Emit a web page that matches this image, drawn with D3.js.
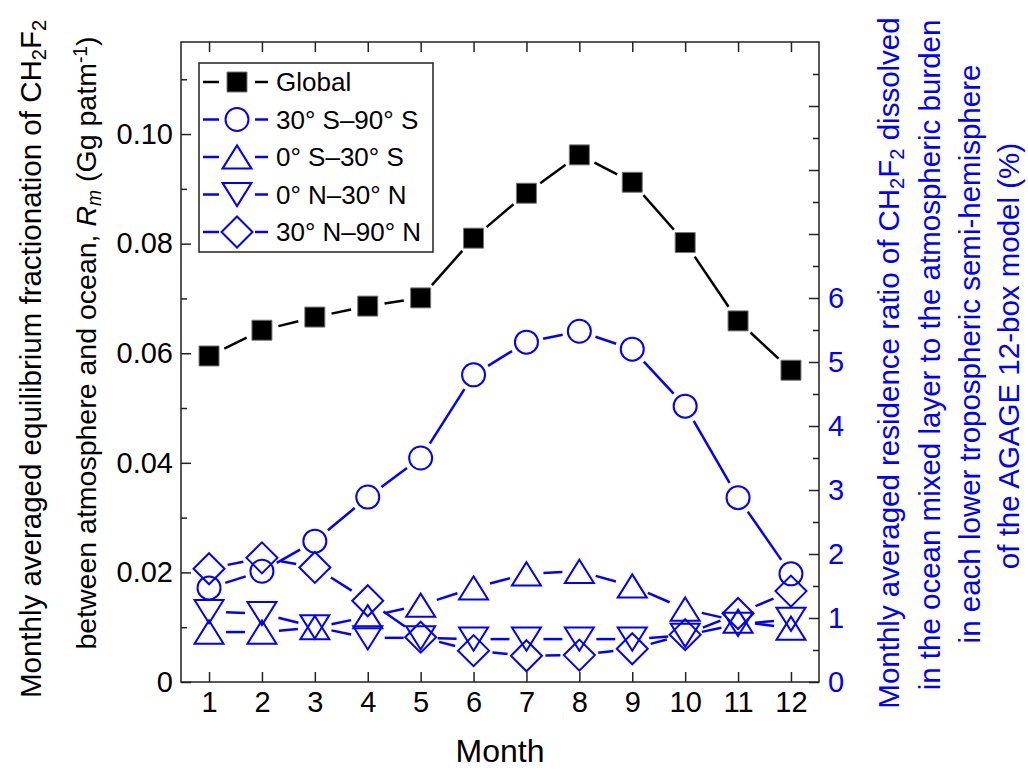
<!DOCTYPE html>
<html>
<head>
<meta charset="utf-8">
<script src="https://cdn.jsdelivr.net/npm/d3@7"></script>
<style>
  body { margin: 0; background: #fff; }
  text { font-family: "Liberation Sans", Arial, sans-serif; }
</style>
</head>
<body>
<div id="chart"></div>
<script>
// months on x
const months = [1, 2, 3, 4, 5, 6, 7, 8, 9, 10, 11, 12]
// left axis: Rm (Gg patm-1), global
const globalRm = [0.0595, 0.0642, 0.0666, 0.0686, 0.0701, 0.0810, 0.0892, 0.0962, 0.0912, 0.0802, 0.0659, 0.0569]
// right axis: residence ratio (%) per semi-hemisphere
const s30S90S = [1.47, 1.73, 2.20, 2.89, 3.50, 4.80, 5.31, 5.48, 5.20, 4.31, 2.88, 1.69]
const s0S30S = [0.78, 0.78, 0.85, 1.02, 1.20, 1.47, 1.69, 1.73, 1.50, 1.14, 0.95, 0.84]
const s0N30N = [1.10, 1.07, 0.86, 0.69, 0.69, 0.67, 0.67, 0.67, 0.67, 0.73, 0.90, 0.98]
const s30N90N = [1.77, 1.94, 1.79, 1.27, 0.70, 0.49, 0.41, 0.42, 0.52, 0.74, 1.07, 1.42]

const leftTicks = [0, 0.02, 0.04, 0.06, 0.08, 0.10]
const leftMinor = [0.01, 0.03, 0.05, 0.07, 0.09, 0.11]
const rightTicks = [0, 1, 2, 3, 4, 5, 6, 7, 8, 9]
const rightMinor = [0.5, 1.5, 2.5, 3.5, 4.5, 5.5, 6.5, 7.5, 8.5, 9.5]

const W = 1028, H = 773
const plot = { left: 181, right: 819, top: 42, bottom: 682 }
const blue = '#0000ff'

const svg = d3.select('#chart').append('svg').attr('width', W).attr('height', H)
svg.append('rect').attr('width', W).attr('height', H).attr('fill', '#fff')

const x = d3.scaleLinear().domain([0.47, 12.53]).range([plot.left, plot.right])
const yL = d3.scaleLinear().domain([0, 0.1168]).range([plot.bottom, plot.top])
const yR = d3.scaleLinear().domain([0, 10]).range([plot.bottom, plot.top])

// custom marker shapes (size = width in px)
const shapes = {
    square: { draw(c, s) { const r = s / 2; c.rect(-r, -r, s, s) } },
    circle: { draw(c, s) { const r = s / 2; c.moveTo(r, 0); c.arc(0, 0, r, 0, 2 * Math.PI) } },
    up: { draw(c, s) { const w = s / 2, h = s * 0.4; c.moveTo(0, -h); c.lineTo(w, h); c.lineTo(-w, h); c.closePath() } },
    down: { draw(c, s) { const w = s / 2, h = s * 0.4; c.moveTo(0, h); c.lineTo(w, -h); c.lineTo(-w, -h); c.closePath() } },
    diamond: { draw(c, s) { const r = s / 2; c.moveTo(0, -r); c.lineTo(r, 0); c.lineTo(0, r); c.lineTo(-r, 0); c.closePath() } }
}

const series = [
    { name: 'Global', values: globalRm, y: yL, shape: 'square', size: 20, color: '#000', fill: '#000', gap: 17 },
    { name: '30\u00b0 S\u201390\u00b0 S', values: s30S90S, y: yR, shape: 'circle', size: 23, color: blue, fill: 'none', gap: 17 },
    { name: '0\u00b0 S\u201330\u00b0 S', values: s0S30S, y: yR, shape: 'up', size: 29, color: blue, fill: 'none', gap: 17 },
    { name: '0\u00b0 N\u201330\u00b0 N', values: s0N30N, y: yR, shape: 'down', size: 29, color: blue, fill: 'none', gap: 17 },
    { name: '30\u00b0 N\u201390\u00b0 N', values: s30N90N, y: yR, shape: 'diamond', size: 31, color: blue, fill: 'none', gap: 19 }
]

// axes with inward ticks
const gAx = svg.append('g')
gAx.append('g').attr('transform', `translate(${plot.left},0)`)
    .call(d3.axisLeft(yL).tickValues(leftTicks).tickSize(-10).tickPadding(8)
        .tickFormat(d => d === 0 ? '0' : d3.format('.2f')(d)))
gAx.append('g').attr('transform', `translate(${plot.left},0)`)
    .call(d3.axisLeft(yL).tickValues(leftMinor).tickSize(-6).tickFormat(''))
gAx.append('g').attr('transform', `translate(0,${plot.bottom})`)
    .call(d3.axisBottom(x).tickValues(months).tickSize(-10).tickPadding(9))
gAx.append('g').attr('transform', `translate(0,${plot.top})`)
    .call(d3.axisTop(x).tickValues(months).tickSize(-10).tickFormat(''))
const rAx = gAx.append('g').attr('transform', `translate(${plot.right},0)`)
    .call(d3.axisRight(yR).tickValues(rightTicks).tickSize(-10).tickPadding(9)
        .tickFormat(d => d <= 6 ? d : ''))
gAx.append('g').attr('transform', `translate(${plot.right},0)`)
    .call(d3.axisRight(yR).tickValues(rightMinor).tickSize(-6).tickFormat(''))
gAx.selectAll('.domain').remove()
gAx.selectAll('.tick line').attr('stroke', '#222').attr('stroke-width', 1.5)
gAx.selectAll('g').attr('font-size', 29).attr('font-family', '"Liberation Sans", Arial, sans-serif')
gAx.selectAll('text').attr('fill', '#000')
rAx.selectAll('text').attr('fill', blue)

svg.append('rect')
    .attr('x', plot.left).attr('y', plot.top)
    .attr('width', plot.right - plot.left).attr('height', plot.bottom - plot.top)
    .attr('fill', 'none').attr('stroke', '#222').attr('stroke-width', 1.5)

// lines broken around the symbols
series.forEach(s => {
    const pts = months.map((m, i) => [x(m), s.y(s.values[i])])
    const segs = d3.pairs(pts).map(([a, b]) => {
        const dx = b[0] - a[0], dy = b[1] - a[1], L = Math.hypot(dx, dy)
        const ux = dx / L, uy = dy / L
        return [a[0] + ux * s.gap, a[1] + uy * s.gap, b[0] - ux * s.gap, b[1] - uy * s.gap]
    })
    svg.append('g').selectAll('line').data(segs).enter().append('line')
        .attr('x1', d => d[0]).attr('y1', d => d[1])
        .attr('x2', d => d[2]).attr('y2', d => d[3])
        .attr('stroke', s.color).attr('stroke-width', 2.5)
})

series.forEach(s => {
    svg.append('g').selectAll('path').data(s.values).enter().append('path')
        .attr('transform', (d, i) => `translate(${x(months[i])},${s.y(d)})`)
        .attr('d', d3.symbol().type(shapes[s.shape]).size(s.size))
        .attr('fill', s.fill)
        .attr('stroke', s.shape === 'square' ? '#777' : s.color)
        .attr('stroke-width', s.shape === 'square' ? 1 : 2)
})

// legend
const lg = svg.append('g')
lg.append('rect').attr('x', 199).attr('y', 63).attr('width', 234).attr('height', 189)
    .attr('fill', '#fff').attr('stroke', '#222').attr('stroke-width', 1.5)
const items = lg.selectAll('g.item').data(series).enter().append('g')
    .attr('transform', (d, i) => `translate(237,${82 + i * 37.5})`)
items.append('line').attr('x1', -34).attr('x2', -18).attr('stroke', d => d.color).attr('stroke-width', 2.5)
items.append('line').attr('x1', 18).attr('x2', 31).attr('stroke', d => d.color).attr('stroke-width', 2.5)
items.append('path')
    .attr('d', d => d3.symbol().type(shapes[d.shape]).size(d.size)())
    .attr('fill', d => d.fill)
    .attr('stroke', d => d.shape === 'square' ? '#777' : d.color)
    .attr('stroke-width', d => d.shape === 'square' ? 1 : 2)
items.append('text').attr('x', 39).attr('dy', '0.36em').attr('font-size', 26).text(d => d.name)

// axis titles
svg.append('text').attr('x', (plot.left + plot.right) / 2).attr('y', 762)
    .attr('text-anchor', 'middle').attr('font-size', 32).text('Month')

function titleLine(g, cx, cy, size, parts, color) {
    const t = g.append('text')
        .attr('transform', `translate(${cx},${cy}) rotate(-90)`)
        .attr('text-anchor', 'middle').attr('font-size', size).attr('fill', color)
    parts.forEach(p => {
        const ts = t.append('tspan').text(p.t)
        if (p.sub) ts.attr('font-size', size * 0.68).attr('baseline-shift', '-25%')
        if (p.sup) ts.attr('font-size', size * 0.68).attr('baseline-shift', '45%')
        if (p.i) ts.attr('font-style', 'italic')
    })
    return t
}
const lt = svg.append('g')
titleLine(lt, 41, 359, 29.5, [{ t: 'Monthly averaged equilibrium fractionation of CH' }, { t: '2', sub: 1 }, { t: 'F' }, { t: '2', sub: 1 }], '#000')
titleLine(lt, 96, 343, 28.5, [{ t: 'between atmosphere and ocean, ' }, { t: 'R', i: 1 }, { t: 'm', i: 1, sub: 1 }, { t: ' (Gg patm' }, { t: '-1', sup: 1 }, { t: ')' }], '#000')

const rt = svg.append('g')
titleLine(rt, 899, 363, 29.5, [{ t: 'Monthly averaged residence ratio of CH' }, { t: '2', sub: 1 }, { t: 'F' }, { t: '2', sub: 1 }, { t: ' dissolved' }], blue)
titleLine(rt, 940, 355, 29.5, [{ t: 'in the ocean mixed layer to the atmospheric burden' }], blue)
titleLine(rt, 980, 354, 29.5, [{ t: 'in each lower tropospheric semi-hemisphere' }], blue)
titleLine(rt, 1019, 356, 29.5, [{ t: 'of the AGAGE 12-box model (%)' }], blue)
</script>
</body>
</html>
